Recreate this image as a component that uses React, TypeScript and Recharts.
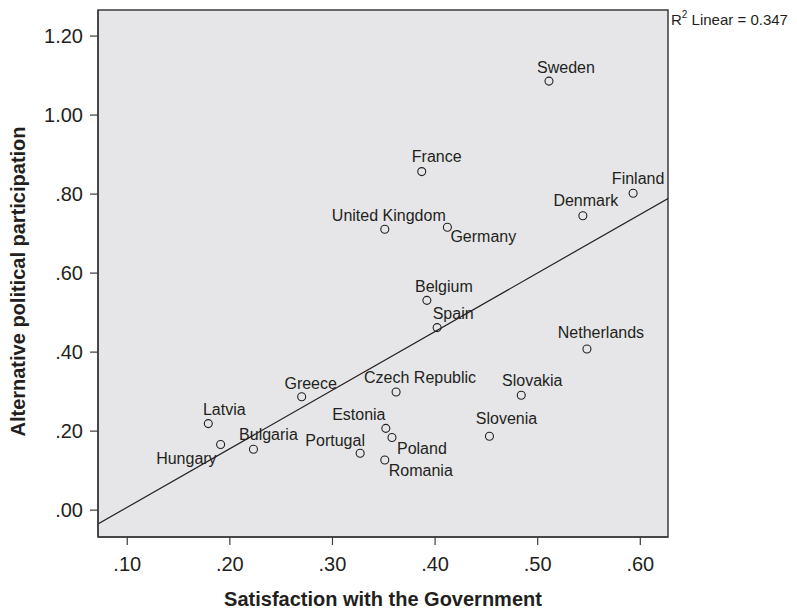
import React from "react";
import {
  ScatterChart,
  Scatter,
  XAxis,
  YAxis,
  CartesianGrid,
  ReferenceLine,
  ReferenceArea,
  Label,
  Customized,
} from "recharts";

const countries = [
  "Sweden", "Finland", "Denmark", "France", "United Kingdom", "Germany", "Belgium",
  "Spain", "Netherlands", "Czech Republic", "Slovakia", "Slovenia", "Greece", "Latvia",
  "Hungary", "Bulgaria", "Portugal", "Estonia", "Poland", "Romania",
];
const satisfaction = [
  0.511, 0.593, 0.544, 0.387, 0.351, 0.412, 0.392, 0.402, 0.548, 0.362, 0.484, 0.453,
  0.27, 0.179, 0.191, 0.223, 0.327, 0.352, 0.358, 0.351,
];
const participation = [
  1.086, 0.802, 0.745, 0.857, 0.711, 0.716, 0.531, 0.462, 0.408, 0.299, 0.291, 0.187,
  0.287, 0.219, 0.166, 0.154, 0.144, 0.207, 0.184, 0.127,
];
const xTicks = [0.1, 0.2, 0.3, 0.4, 0.5, 0.6];
const yTicks = [0, 0.2, 0.4, 0.6, 0.8, 1.0, 1.2];
const regIntercept = -0.141;
const regSlope = 1.483;
const rSquared = "0.347";

const X_DOMAIN: [number, number] = [0.0715, 0.627];
const Y_DOMAIN: [number, number] = [-0.068, 1.266];

// label placement: [textAnchor, dx, dy]
const labelPlacement: Record<string, [string, number, number]> = {
  Sweden: ["middle", 17, -8],
  Finland: ["middle", 5, -9],
  Denmark: ["middle", 3, -10],
  France: ["middle", 15, -10],
  "United Kingdom": ["middle", 4, -8],
  Germany: ["start", 3, 15],
  Belgium: ["middle", 17, -8],
  Spain: ["middle", 16, -9],
  Netherlands: ["middle", 14, -11],
  "Czech Republic": ["middle", 24, -9],
  Slovakia: ["middle", 11, -9],
  Slovenia: ["middle", 17, -12],
  Greece: ["middle", 9, -8],
  Latvia: ["middle", 16, -9],
  Hungary: ["end", -4, 19],
  Bulgaria: ["middle", 15, -9],
  Portugal: ["middle", -25, -7],
  Estonia: ["middle", -27, -8],
  Poland: ["start", 5, 17],
  Romania: ["start", 4, 16],
};

const data = countries.map((c, i) => ({
  country: c,
  x: satisfaction[i],
  y: participation[i],
}));

const FONT = "'Liberation Sans', Arial, Helvetica, sans-serif";
const TEXT = "#231f20";
const FRAME = "#3c3c3c";

const fmt = (v: number) => {
  const s = v.toFixed(2);
  return s.startsWith("0") ? s.slice(1) : s;
};

const PointShape = (props: any) => {
  const { cx, cy, payload } = props;
  if (cx == null || cy == null) return null;
  const p = labelPlacement[payload.country] || ["middle", 0, -9];
  return (
    <g>
      <circle cx={cx} cy={cy} r={4} fill="none" stroke={TEXT} strokeWidth={1.1} />
      <text
        x={cx + p[1]}
        y={cy + p[2]}
        textAnchor={p[0] as any}
        fontFamily={FONT}
        fontSize={16}
        fill={TEXT}
      >
        {payload.country}
      </text>
    </g>
  );
};

export default function App() {
  return (
    <div style={{ position: "absolute", left: 0, top: 0 }}>
      <ScatterChart
        width={797}
        height={609}
        margin={{ top: 10, right: 129, bottom: 0, left: 0 }}
      >
        <CartesianGrid horizontal={false} vertical={false} fill="#e6e6e8" stroke="none" />
        <ReferenceArea
          x1={X_DOMAIN[0]}
          x2={X_DOMAIN[1]}
          y1={Y_DOMAIN[0]}
          y2={Y_DOMAIN[1]}
          fill="none"
          stroke={FRAME}
          strokeWidth={1.5}
          fillOpacity={0}
          ifOverflow="extendDomain"
        />
        <XAxis
          type="number"
          dataKey="x"
          domain={X_DOMAIN}
          allowDataOverflow
          ticks={xTicks}
          tickFormatter={fmt}
          height={72}
          tickSize={8}
          tickMargin={12}
          axisLine={{ stroke: FRAME, strokeWidth: 1.5 }}
          tickLine={{ stroke: FRAME, strokeWidth: 1.2 }}
          tick={{ fontSize: 20, fill: TEXT, fontFamily: FONT }}
        >
          <Label
            content={(p: any) => {
              const vb = p.viewBox || {};
              return (
                <text
                  x={vb.x + vb.width / 2}
                  y={vb.y + vb.height - 3}
                  textAnchor="middle"
                  fontFamily={FONT}
                  fontSize={20}
                  fontWeight="bold"
                  fill={TEXT}
                >
                  Satisfaction with the Government
                </text>
              );
            }}
          />
        </XAxis>
        <YAxis
          type="number"
          dataKey="y"
          domain={Y_DOMAIN}
          allowDataOverflow
          ticks={yTicks}
          tickFormatter={fmt}
          width={98}
          tickSize={8}
          tickMargin={7}
          axisLine={{ stroke: FRAME, strokeWidth: 1.5 }}
          tickLine={{ stroke: FRAME, strokeWidth: 1.2 }}
          tick={{ fontSize: 20, fill: TEXT, fontFamily: FONT }}
        >
          <Label
            content={(p: any) => {
              const vb = p.viewBox || {};
              const cx = vb.x + 25;
              const cy = vb.y + vb.height / 2 + 8;
              return (
                <text
                  x={cx}
                  y={cy}
                  transform={`rotate(-90 ${cx} ${cy})`}
                  textAnchor="middle"
                  fontFamily={FONT}
                  fontSize={20}
                  fontWeight="bold"
                  fill={TEXT}
                >
                  Alternative political participation
                </text>
              );
            }}
          />
        </YAxis>
        <ReferenceLine
          segment={[
            { x: X_DOMAIN[0], y: regIntercept + regSlope * X_DOMAIN[0] },
            { x: X_DOMAIN[1], y: regIntercept + regSlope * X_DOMAIN[1] },
          ]}
          stroke={TEXT}
          strokeWidth={1.2}
          ifOverflow="hidden"
        />
        <Scatter data={data} isAnimationActive={false} shape={PointShape} />
        <Customized
          component={() => (
            <text x={671} y={25} fontFamily={FONT} fontSize={15} fill={TEXT}>
              R
              <tspan fontSize={10} dy={-7}>2</tspan>
              <tspan dy={7}> Linear = {rSquared}</tspan>
            </text>
          )}
        />
      </ScatterChart>
    </div>
  );
}
